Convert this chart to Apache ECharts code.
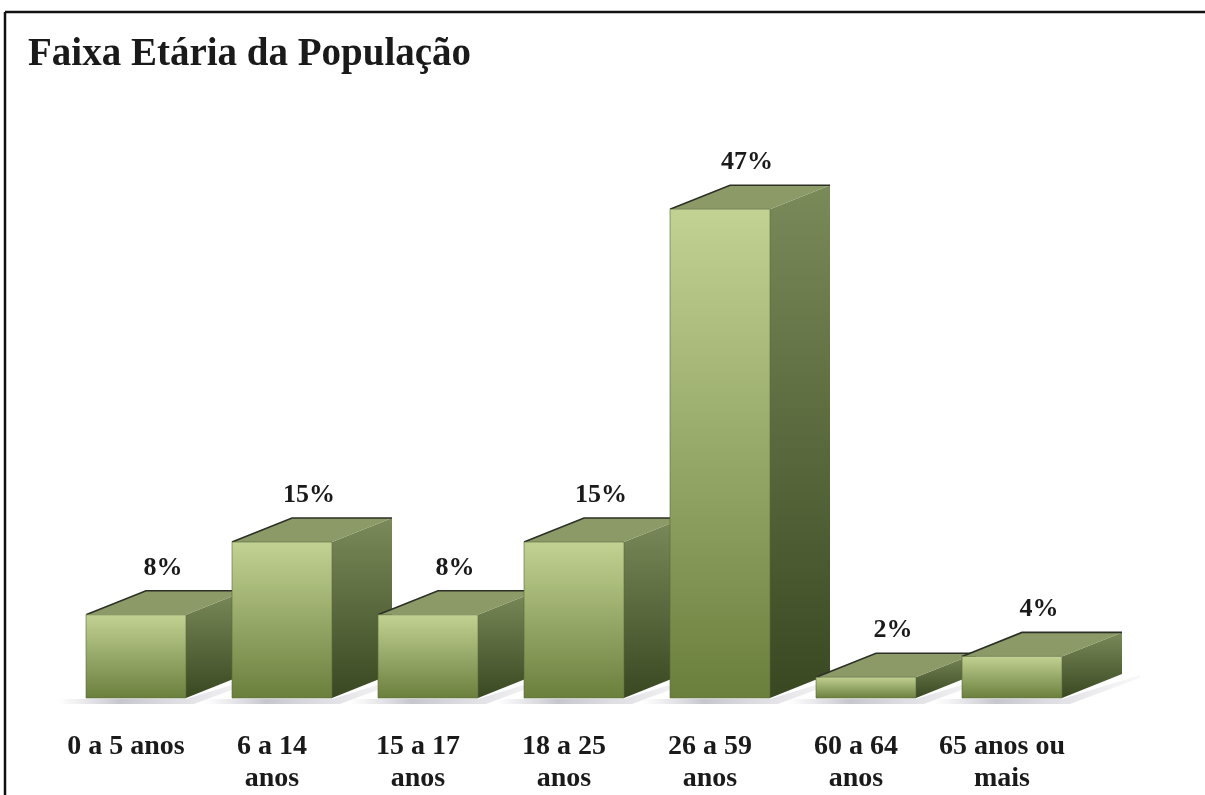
<!DOCTYPE html>
<html>
<head>
<meta charset="utf-8">
<script src="https://cdn.jsdelivr.net/npm/echarts@6/dist/echarts.min.js"></script>
<style>
  html, body { margin: 0; padding: 0; background: #fff; }
  #chart { width: 1205px; height: 795px; }
</style>
</head>
<body>
<div id="chart"></div>
<script>
// dados do gráfico
const categories = ['0 a 5 anos', '6 a 14\nanos', '15 a 17\nanos', '18 a 25\nanos', '26 a 59\nanos', '60 a 64\nanos', '65 anos ou\nmais']
const values = [8, 15, 8, 15, 47, 2, 4]
const labels = values.map(v => v + '%')

// geometria da barra 3D (px)
const FRONT_LEFT = -40   // borda esquerda da face frontal relativa ao centro da categoria
const FRONT_W = 100
const DEPTH_X = 60
const DEPTH_Y = 24
const SERIF = '"Liberation Serif", "DejaVu Serif", serif'

const chart = echarts.init(document.getElementById('chart'))

function renderBar (params, api) {
  const base = api.coord([api.value(0), 0])
  const top = api.coord([api.value(0), api.value(1)])
  const x0 = base[0] + FRONT_LEFT
  const x1 = x0 + FRONT_W
  const yb = base[1]
  const yt = top[1]
  const dx = DEPTH_X
  const dy = DEPTH_Y

  const frontFill = new echarts.graphic.LinearGradient(0, 0, 0, 1, [
    { offset: 0, color: '#c2d292' },
    { offset: 1, color: '#6b7f3d' }
  ])
  const sideFill = new echarts.graphic.LinearGradient(0, 0, 0, 1, [
    { offset: 0, color: '#7b8a59' },
    { offset: 1, color: '#3a4822' }
  ])

  return {
    type: 'group',
    children: [
      // sombra no chão
      {
        type: 'polygon',
        shape: { points: [[x0 - 28, yb + 1], [x1, yb + 1], [x1 + dx + 18, yb - dy + 1], [x1 + dx + 18, yb - dy + 4], [x1 + 8, yb + 6], [x0 - 28, yb + 6]] },
        style: {
          fill: new echarts.graphic.LinearGradient(0, 0, 1, 0, [
            { offset: 0, color: 'rgba(170,170,180,0)' },
            { offset: 0.3, color: 'rgba(150,150,165,0.55)' },
            { offset: 1, color: 'rgba(190,190,200,0.1)' }
          ])
        },
        silent: true
      },
      // face lateral
      {
        type: 'polygon',
        shape: { points: [[x1, yt], [x1 + dx, yt - dy], [x1 + dx, yb - dy], [x1, yb]] },
        style: { fill: sideFill }
      },
      // face superior
      {
        type: 'polygon',
        shape: { points: [[x0, yt], [x0 + dx, yt - dy], [x1 + dx, yt - dy], [x1, yt]] },
        style: { fill: '#8b9a67' }
      },
      {
        type: 'polyline',
        shape: { points: [[x0, yt], [x0 + dx, yt - dy], [x1 + dx, yt - dy]] },
        style: { stroke: '#2c2f26', lineWidth: 1.6, fill: null }
      },
      // face frontal
      {
        type: 'rect',
        shape: { x: x0, y: yt, width: FRONT_W, height: yb - yt },
        style: { fill: frontFill, stroke: 'rgba(90,105,60,0.6)', lineWidth: 1 }
      },
      // rótulo do valor
      {
        type: 'text',
        x: x0 + FRONT_W / 2 + 27,
        y: yt - dy - 23,
        style: {
          text: labels[params.dataIndex],
          font: 'bold 26px ' + SERIF,
          fill: '#1a1a1a',
          align: 'center',
          verticalAlign: 'middle'
        }
      }
    ]
  }
}

chart.setOption({
  animation: false,
  backgroundColor: '#fff',
  title: {
    text: 'Faixa Etária da População',
    left: 23,
    top: 30,
    textStyle: { fontFamily: SERIF, fontWeight: 'bold', fontSize: 39, color: '#1a1a1a' }
  },
  graphic: [
    { type: 'line', shape: { x1: 5, y1: 12, x2: 1205, y2: 12 }, style: { stroke: '#111', lineWidth: 2.5 } },
    { type: 'line', shape: { x1: 5, y1: 12, x2: 5, y2: 795 }, style: { stroke: '#111', lineWidth: 2.5 } }
  ],
  grid: { left: 53, right: 130, top: 74, bottom: 97 },
  xAxis: {
    type: 'category',
    data: categories,
    axisLine: { show: false },
    axisTick: { show: false },
    axisLabel: {
      interval: 0,
      margin: 33,
      fontFamily: SERIF,
      fontWeight: 'bold',
      fontSize: 28,
      lineHeight: 32,
      color: '#1a1a1a'
    }
  },
  yAxis: {
    type: 'value',
    min: 0,
    max: 60,
    show: false
  },
  series: [{
    type: 'custom',
    renderItem: renderBar,
    data: values.map((v, i) => [i, v]),
    encode: { x: 0, y: 1 }
  }]
})
</script>
</body>
</html>
